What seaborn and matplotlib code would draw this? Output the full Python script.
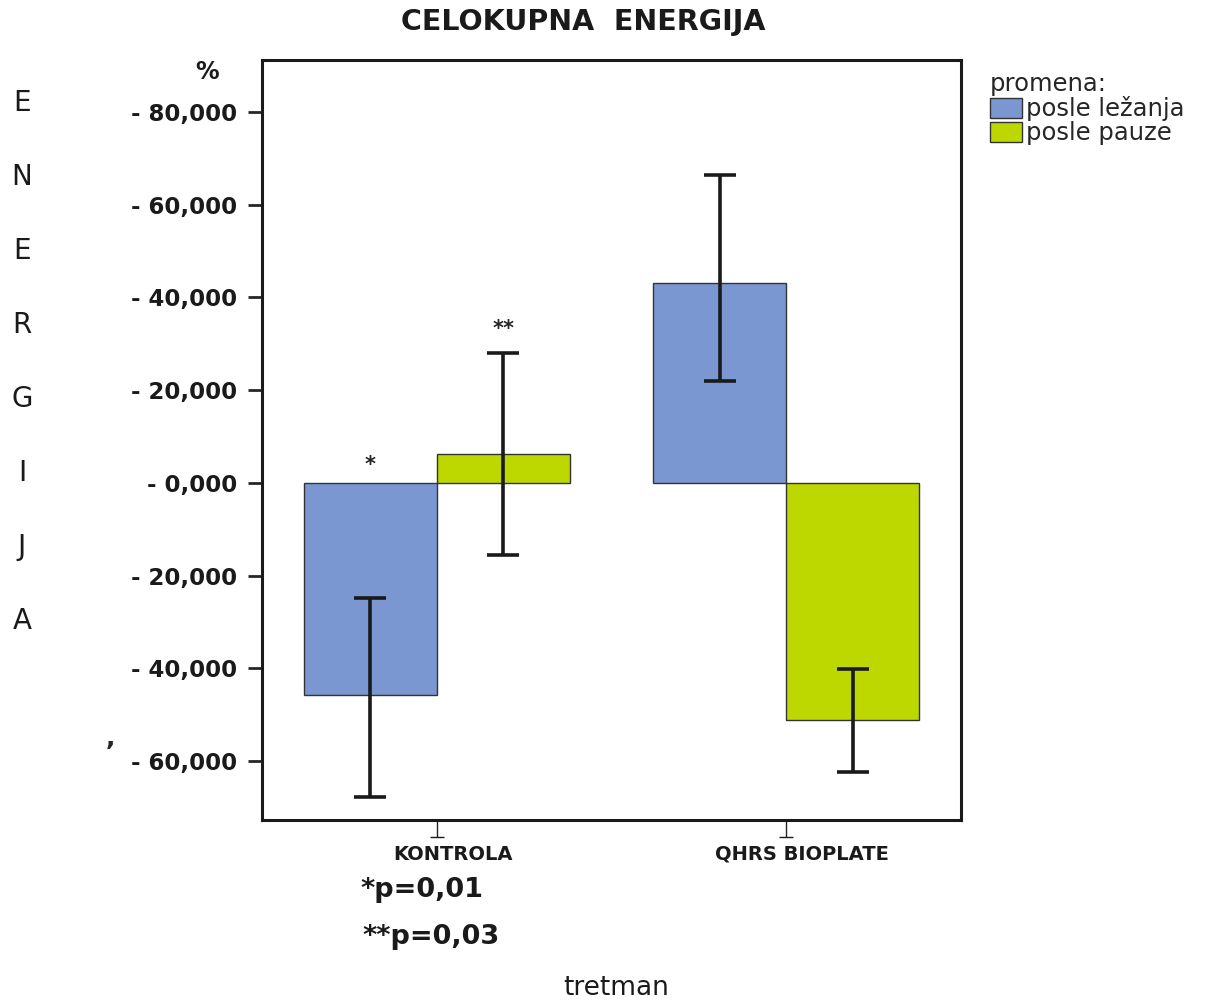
import numpy as np
import pandas as pd
import matplotlib
matplotlib.use('Agg')
import matplotlib.pyplot as plt
import matplotlib.transforms as mtransforms
import seaborn as sns

sns.set_style('white')
plt.rcParams['font.family'] = ['DejaVu Sans']

# ---- data (percent change of total energy) ----
tretman = ['KONTROLA', 'QHRS BIOPLATE']
promena = ['posle ležanja', 'posle pauze']
lezanja_mean = [-45.7, 43.1]
lezanja_lo = [-67.7, 22.0]
lezanja_hi = [-24.8, 66.4]
pauze_mean = [6.3, -51.1]
pauze_lo = [-15.5, -62.3]
pauze_hi = [28.0, -40.1]
ytick_vals = [80, 60, 40, 20, 0, -20, -40, -60]
ytick_labels = ['- 80,000', '- 60,000', '- 40,000', '- 20,000', '- 0,000',
                '- 20,000', '- 40,000', '- 60,000']
stars = {('KONTROLA', 'posle ležanja'): '*', ('KONTROLA', 'posle pauze'): '**'}

df = pd.DataFrame({
    'tretman': tretman * 2,
    'promena': [promena[0]] * 2 + [promena[1]] * 2,
    'mean': lezanja_mean + pauze_mean,
    'lo': lezanja_lo + pauze_lo,
    'hi': lezanja_hi + pauze_hi,
})
colors = {'posle ležanja': '#7b97d1', 'posle pauze': '#bcd800'}

fig = plt.figure(figsize=(12.06, 10), dpi=100)
ax = fig.add_axes([262 / 1206, 1 - 820 / 1000, 699 / 1206, 760 / 1000])

sns.barplot(data=df, x='tretman', y='mean', hue='promena', order=tretman,
            hue_order=promena, palette=colors, errorbar=None, width=0.76,
            saturation=1, edgecolor='#333333', linewidth=1, ax=ax, legend=False)

# error bars + significance stars at bar centres
for cont, name in zip(ax.containers, promena):
    sub = df[df['promena'] == name].set_index('tretman').loc[tretman]
    xs = [p.get_x() + p.get_width() / 2 for p in cont.patches]
    m = sub['mean'].values
    yerr = [m - sub['lo'].values, sub['hi'].values - m]
    ax.errorbar(xs, m, yerr=yerr, fmt='none', ecolor='#1a1a1a',
                elinewidth=2.6, capsize=11.5, capthick=2.6, zorder=5)
    for x, t, hi in zip(xs, tretman, sub['hi'].values):
        s = stars.get((t, name))
        if s is None:
            continue
        top = 0 if s == '*' else hi
        off = 6 if s == '*' else 10
        ax.annotate(s, (x, top), xytext=(0, off), textcoords='offset points',
                    ha='center', va='bottom', fontsize=15, fontweight='bold')

ax.set_xlim(-0.5, 1.5)
ax.set_ylim(-72.7, 91.2)
ax.set_yticks(ytick_vals)
ax.set_yticklabels(ytick_labels, fontsize=16.5, fontweight='bold', color='#1a1a1a')
ax.set_xticks(range(len(tretman)))
ax.set_xticklabels(tretman, fontsize=14, fontweight='bold', color='#1a1a1a')
ax.tick_params(axis='y', direction='out', length=10, width=2, pad=8, left=True)
ax.tick_params(axis='x', direction='out', length=12, width=1, pad=6, bottom=True)
shift = mtransforms.ScaledTranslation(0.16, 0, fig.dpi_scale_trans)
for lab in ax.get_xticklabels():
    lab.set_transform(lab.get_transform() + shift)
# little foot on each x tick
foot = mtransforms.offset_copy(ax.get_xaxis_transform(), fig=fig, y=-17, units='dots')
ax.plot(range(len(tretman)), [0] * len(tretman), ls='none', marker='_', ms=9.5,
        mew=1, color='#1a1a1a', transform=foot, clip_on=False)
ax.set_xlabel('')
ax.set_ylabel('')
for sp in ax.spines.values():
    sp.set_visible(True)
    sp.set_linewidth(2.2)
    sp.set_color('#1a1a1a')

# texts around the axes
fig.text(583 / 1206, 1 - 22 / 1000, 'CELOKUPNA  ENERGIJA', ha='center', va='center',
         fontsize=20.5, fontweight='bold', color='#1a1a1a')
fig.text(207 / 1206, 1 - 72 / 1000, '%', ha='center', va='center',
         fontsize=17, fontweight='bold', color='#1a1a1a')
for i, ch in enumerate('ENERGIJA'):
    fig.text(22 / 1206, 1 - (103 + i * 74) / 1000, ch, ha='center', va='center',
             fontsize=20, color='#1a1a1a')
fig.text(110 / 1206, 1 - 738 / 1000, ',', ha='center', va='center',
         fontsize=18, fontweight='bold')
fig.text(360 / 1206, 1 - 890 / 1000, '*p=0,01', ha='left', va='center',
         fontsize=19.5, fontweight='bold', color='#1a1a1a')
fig.text(362 / 1206, 1 - 937 / 1000, '**p=0,03', ha='left', va='center',
         fontsize=19.5, fontweight='bold', color='#1a1a1a')
fig.text(616 / 1206, 1 - 988 / 1000, 'tretman', ha='center', va='center',
         fontsize=19, color='#1a1a1a')

handles = [plt.Rectangle((0, 0), 1, 1, facecolor=colors[p], edgecolor='#333333', lw=1)
           for p in promena]
fig.legend(handles, promena, title='promena:', loc='upper left',
           bbox_to_anchor=(990 / 1206, 1 - 72 / 1000), frameon=False,
           fontsize=17.5, title_fontsize=17.5, alignment='left',
           handlelength=1.3, handleheight=0.9, handletextpad=0.2,
           labelspacing=0.0, borderaxespad=0, borderpad=0)

fig.savefig('out.png', dpi=100)
